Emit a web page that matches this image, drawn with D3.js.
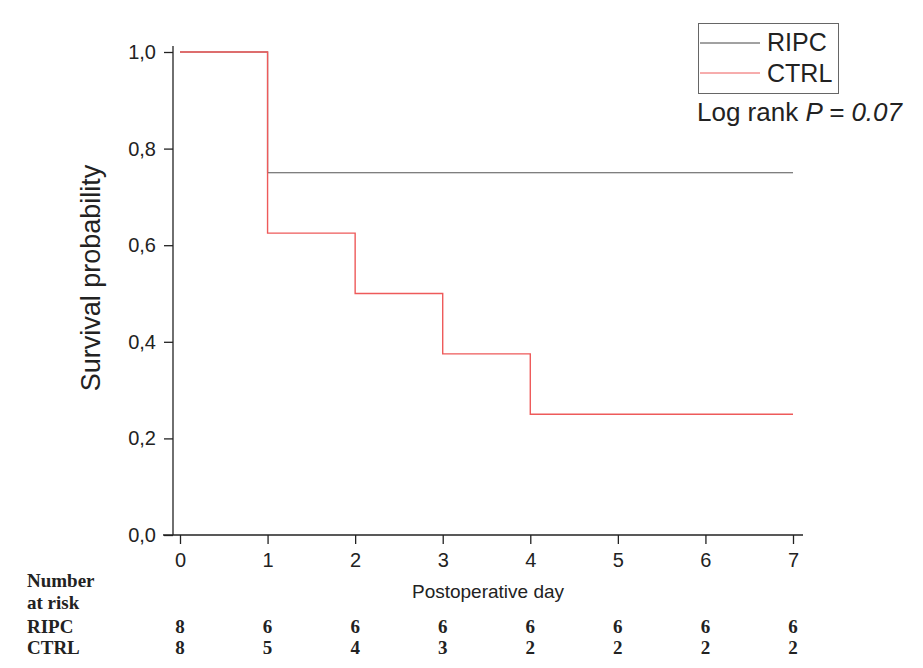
<!DOCTYPE html>
<html>
<head>
<meta charset="utf-8">
<script src="https://cdn.jsdelivr.net/npm/d3@7"></script>
<style>
  body { margin: 0; background: #fff; }
  svg text { font-family: Arial, "Liberation Sans", sans-serif; }
</style>
</head>
<body>
<div id="chart"></div>
<script>
// data
var days = [0, 1, 2, 3, 4, 5, 6, 7];
var ripcSurv = [1.0, 0.75, 0.75, 0.75, 0.75, 0.75, 0.75, 0.75];
var ctrlSurv = [1.0, 0.625, 0.5, 0.375, 0.25, 0.25, 0.25, 0.25];
var ripcRisk = [8, 6, 6, 6, 6, 6, 6, 6];
var ctrlRisk = [8, 5, 4, 3, 2, 2, 2, 2];
var yTicks = [0, 0.2, 0.4, 0.6, 0.8, 1.0];

var width = 923, height = 668;
var svg = d3.select("#chart").append("svg")
  .attr("width", width)
  .attr("height", height);

var x = d3.scaleLinear().domain([0, 7]).range([180, 793]);
var y = d3.scaleLinear().domain([0, 1]).range([535, 52]);

// y axis
var yAxis = svg.append("g")
  .attr("transform", "translate(173,0)")
  .attr("font-size", 20)
  .call(d3.axisLeft(y).tickValues(yTicks).tickSize(9).tickPadding(8)
    .tickFormat(function(d) { return d3.format(".1f")(d).replace(".", ","); }));
yAxis.select(".domain").attr("d", "M0,46V535").attr("stroke", "#222").attr("stroke-width", 1.3);
yAxis.selectAll(".tick line").attr("stroke", "#222").attr("stroke-width", 1.3);
yAxis.selectAll("text").style("font-size", "20px").attr("fill", "#222");

// x axis
var xAxis = svg.append("g")
  .attr("transform", "translate(0,535)")
  .attr("font-size", 20)
  .call(d3.axisBottom(x).tickValues(days).tickSize(9).tickPadding(9)
    .tickFormat(d3.format("d")));
xAxis.select(".domain").attr("d", "M163,0H803").attr("stroke", "#222").attr("stroke-width", 1.3);
xAxis.selectAll(".tick line").attr("stroke", "#222").attr("stroke-width", 1.3);
xAxis.selectAll("text").style("font-size", "20px").attr("fill", "#222");

// axis labels
svg.append("text")
  .attr("transform", "translate(100,278) rotate(-90)")
  .attr("text-anchor", "middle")
  .style("font-size", "27px")
  .attr("fill", "#222")
  .text("Survival probability");

svg.append("text")
  .attr("x", 488).attr("y", 598)
  .attr("text-anchor", "middle")
  .style("font-size", "19px")
  .attr("fill", "#222")
  .text("Postoperative day");

// step lines
var line = d3.line()
  .x(function(d) { return x(d[0]); })
  .y(function(d) { return y(d[1]); })
  .curve(d3.curveStepAfter);

svg.append("path")
  .datum(d3.zip(days, ripcSurv))
  .attr("fill", "none")
  .attr("stroke", "#555")
  .attr("stroke-width", 1.2)
  .attr("d", line);

svg.append("path")
  .datum(d3.zip(days, ctrlSurv))
  .attr("fill", "none")
  .attr("stroke", "#ee5a5a")
  .attr("stroke-width", 1.4)
  .attr("d", line);

// legend
var legend = svg.append("g");
legend.append("rect")
  .attr("x", 698.5).attr("y", 23.5)
  .attr("width", 140).attr("height", 70)
  .attr("fill", "none")
  .attr("stroke", "#666")
  .attr("stroke-width", 1);

var legNames = ["RIPC", "CTRL"];
var legColors = ["#444", "#ee5a5a"];
legend.selectAll(".legline").data(legNames).enter()
  .append("line")
  .attr("x1", 700).attr("x2", 760)
  .attr("y1", function(d, i) { return 43 + i * 30; })
  .attr("y2", function(d, i) { return 43 + i * 30; })
  .attr("stroke", function(d, i) { return legColors[i]; })
  .attr("stroke-width", 1);
legend.selectAll(".legtext").data(legNames).enter()
  .append("text")
  .attr("x", 767)
  .attr("y", function(d, i) { return 51 + i * 31; })
  .style("font-size", "25px")
  .attr("fill", "#222")
  .text(function(d) { return d; });

var pText = svg.append("text")
  .attr("x", 697).attr("y", 121)
  .style("font-size", "26px")
  .attr("fill", "#222");
pText.append("tspan").text("Log rank ");
pText.append("tspan").style("font-style", "italic").text("P = 0.07");

// number at risk table
var serif = "'Liberation Serif', 'DejaVu Serif', serif";
svg.append("text")
  .attr("x", 27).attr("y", 587)
  .style("font-family", serif).style("font-weight", "bold").style("font-size", "19px")
  .attr("fill", "#222")
  .text("Number");
svg.append("text")
  .attr("x", 27).attr("y", 609)
  .style("font-family", serif).style("font-weight", "bold").style("font-size", "19px")
  .attr("fill", "#222")
  .text("at risk");

var rows = [["RIPC", ripcRisk, 633], ["CTRL", ctrlRisk, 654]];
rows.forEach(function(r) {
  svg.append("text")
    .attr("x", 27).attr("y", r[2])
    .style("font-family", serif).style("font-weight", "bold").style("font-size", "19px")
    .attr("fill", "#222")
    .text(r[0]);
  svg.selectAll(null).data(r[1]).enter()
    .append("text")
    .attr("x", function(d, i) { return x(days[i]); })
    .attr("y", r[2])
    .attr("text-anchor", "middle")
    .style("font-family", serif).style("font-weight", "bold").style("font-size", "19px")
    .attr("fill", "#222")
    .text(function(d) { return d; });
});
</script>
</body>
</html>
